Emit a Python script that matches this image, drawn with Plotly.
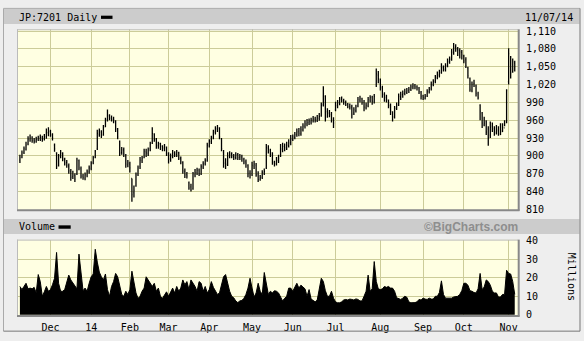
import pandas as pd
import plotly.graph_objects as go

# ---------------- data ----------------
JP_HOLIDAYS = ["2013-12-23", "2013-12-31", "2014-01-01", "2014-01-02", "2014-01-03",
               "2014-01-13", "2014-02-11", "2014-03-21", "2014-04-29", "2014-05-05",
               "2014-05-06", "2014-07-21", "2014-09-15", "2014-09-23", "2014-10-13",
               "2014-11-03"]
dates = [d.strftime("%Y-%m-%d") for d in
         pd.bdate_range("2013-11-11", "2014-11-07", freq="C", holidays=JP_HOLIDAYS)]

month_ticks = ["2013-12-02", "2014-01-06", "2014-02-03", "2014-03-03", "2014-04-01",
               "2014-05-01", "2014-06-02", "2014-07-01", "2014-08-01", "2014-09-01",
               "2014-10-01", "2014-11-04"]
month_labels = ["Dec", "14", "Feb", "Mar", "Apr", "May", "Jun", "Jul", "Aug", "Sep", "Oct", "Nov"]

price_ticks = [810, 840, 870, 900, 930, 960, 990, 1020, 1050, 1080, 1110]
volume_ticks = [0, 10, 20, 30, 40]

open_ = [
    893, 898, 906, 911, 920, 927, 930, 927, 925, 928, 929, 931, 929, 932, 939,
    941, 935, 918, 905, 884, 900, 904, 894, 889, 883, 874, 865, 867, 870, 892, 879, 866, 862, 868, 873,
    879, 889, 898, 912, 936, 940, 936, 950, 961, 967, 963, 961, 958, 945, 925, 906, 910, 900, 885,
    886, 862, 838, 850, 870, 882, 892, 898, 907, 904, 912, 922, 936, 928, 917, 921, 916, 913, 914,
    903, 894, 900, 905, 902, 905, 896, 889, 874, 869, 855, 848, 845, 868, 872, 876, 870, 881, 887, 893,
    917, 924, 931, 940, 945, 946, 928, 906, 888, 886, 900, 903, 899, 897, 902, 898, 898, 894, 890, 884, 871,
    870, 883, 884, 870, 861, 864, 871, 880, 913, 909, 902, 889, 887, 892, 900, 911, 916, 913, 917, 922,
    928, 931, 936, 941, 937, 944, 950, 954, 956, 957, 960, 962, 960, 963, 968, 986, 1000, 974, 972, 969, 960,
    978, 984, 989, 996, 992, 990, 987, 983, 982, 972, 976, 984, 994, 996, 990, 981, 984, 994, 999, 991, 1020, 1036,
    1028, 1014, 1004, 999, 993, 984, 974, 966, 980, 986, 999, 1003, 1005, 1007, 1010, 1012, 1016, 1018, 1016, 1014, 1007,
    1001, 997, 1001, 1008, 1013, 1020, 1026, 1031, 1036, 1041, 1049, 1045, 1052, 1059, 1063, 1074, 1083, 1080, 1077, 1074,
    1068, 1062, 1048, 1030, 1010, 1021, 1018, 1004, 985, 972, 952, 958, 945, 935, 950, 946, 938, 944, 936, 941, 947, 958,
    1025, 1065, 1042, 1056,
]
high = [
    902, 909, 916, 924, 933, 936, 933, 930, 932, 934, 936, 934, 937, 946, 948,
    944, 938, 921, 906, 903, 910, 906, 897, 893, 887, 878, 875, 871, 897, 894, 882, 870, 872, 877, 884,
    891, 900, 910, 944, 946, 943, 952, 964, 978, 970, 968, 966, 960, 947, 926, 915, 914, 903, 893,
    890, 862, 850, 872, 884, 898, 900, 912, 912, 914, 924, 948, 938, 930, 924, 922, 918, 920, 916,
    906, 904, 910, 908, 910, 907, 899, 891, 879, 873, 857, 853, 873, 878, 880, 879, 886, 891, 896, 922,
    928, 934, 944, 950, 952, 948, 930, 910, 896, 906, 908, 906, 903, 906, 905, 903, 902, 897, 894, 886, 876,
    890, 892, 888, 874, 868, 876, 879, 920, 918, 912, 906, 892, 898, 902, 920, 922, 921, 924, 928, 935,
    936, 940, 946, 947, 950, 955, 960, 962, 963, 964, 967, 966, 969, 972, 990, 1017, 1002, 980, 977, 974, 965,
    991, 994, 999, 1000, 996, 993, 989, 988, 986, 982, 986, 999, 1001, 998, 994, 990, 999, 1002, 1001, 1004, 1047, 1043,
    1030, 1018, 1007, 1003, 995, 988, 975, 984, 990, 1005, 1008, 1010, 1013, 1014, 1016, 1020, 1022, 1021, 1019, 1016, 1009,
    1003, 1004, 1012, 1016, 1025, 1029, 1036, 1042, 1045, 1056, 1052, 1056, 1064, 1067, 1080, 1090, 1088, 1083, 1081, 1078,
    1070, 1066, 1050, 1032, 1025, 1028, 1020, 1008, 987, 974, 966, 960, 950, 958, 956, 950, 952, 950, 955, 955, 960, 1012,
    1081, 1068, 1064, 1060,
]
low = [
    888, 896, 903, 909, 918, 924, 922, 921, 922, 925, 925, 924, 926, 929, 933,
    932, 926, 907, 878, 882, 896, 891, 884, 880, 870, 858, 861, 856, 868, 876, 862, 860, 859, 864, 870,
    876, 886, 896, 910, 932, 930, 934, 948, 958, 960, 958, 955, 940, 928, 900, 902, 898, 880, 881,
    872, 823, 830, 848, 866, 878, 888, 896, 898, 900, 908, 920, 924, 912, 912, 910, 908, 908, 900,
    887, 890, 896, 898, 898, 893, 886, 870, 863, 862, 843, 840, 843, 864, 868, 866, 868, 878, 884, 890,
    914, 920, 928, 936, 940, 928, 908, 880, 878, 883, 896, 896, 893, 894, 893, 893, 890, 886, 880, 864, 862,
    866, 878, 865, 856, 858, 861, 868, 878, 904, 898, 885, 882, 884, 888, 898, 906, 908, 910, 914, 918,
    925, 928, 932, 933, 934, 941, 946, 950, 952, 953, 956, 956, 957, 959, 966, 983, 958, 964, 965, 956, 947,
    975, 980, 985, 990, 986, 984, 980, 978, 963, 969, 973, 982, 990, 986, 975, 978, 982, 990, 986, 988, 1016, 1022,
    1010, 998, 991, 990, 980, 969, 958, 963, 977, 984, 994, 998, 1002, 1004, 1006, 1009, 1012, 1012, 1010, 1004, 995,
    994, 995, 999, 1005, 1010, 1017, 1022, 1029, 1032, 1038, 1042, 1042, 1049, 1055, 1060, 1070, 1075, 1068, 1064, 1062,
    1056, 1048, 1030, 1008, 1007, 1016, 1000, 995, 960, 947, 950, 935, 917, 930, 940, 934, 936, 934, 935, 940, 950, 955,
    1020, 1030, 1040, 1042,
]
close = [
    897, 905, 912, 918, 928, 930, 926, 925, 928, 930, 931, 928, 933, 939, 941,
    936, 930, 912, 882, 900, 905, 895, 888, 884, 875, 864, 868, 861, 893, 880, 866, 864, 868, 873, 880,
    888, 897, 908, 938, 940, 934, 948, 960, 968, 964, 962, 960, 946, 932, 905, 910, 903, 886, 888,
    880, 835, 842, 868, 880, 893, 896, 908, 905, 910, 920, 938, 928, 918, 920, 917, 914, 916, 904,
    895, 900, 905, 903, 906, 896, 890, 875, 868, 866, 846, 843, 870, 872, 876, 870, 882, 886, 892, 918,
    925, 930, 940, 946, 948, 932, 912, 888, 885, 900, 903, 900, 898, 902, 897, 899, 895, 890, 888, 870, 868,
    884, 886, 868, 860, 863, 872, 874, 914, 910, 905, 890, 886, 893, 896, 912, 916, 914, 918, 922, 928,
    932, 936, 940, 938, 944, 950, 954, 956, 958, 960, 962, 961, 964, 966, 985, 1005, 975, 972, 970, 962, 955,
    985, 990, 995, 993, 990, 986, 983, 982, 970, 978, 982, 995, 997, 990, 982, 985, 995, 998, 992, 1000, 1038, 1030,
    1015, 1003, 998, 995, 985, 975, 965, 980, 985, 1000, 1003, 1005, 1008, 1010, 1012, 1016, 1018, 1016, 1015, 1008, 1000,
    998, 1000, 1008, 1012, 1020, 1025, 1032, 1036, 1040, 1048, 1046, 1052, 1058, 1062, 1075, 1082, 1080, 1078, 1075, 1070,
    1060, 1052, 1035, 1012, 1020, 1022, 1005, 998, 975, 955, 955, 940, 930, 948, 945, 940, 942, 938, 942, 948, 955, 1010,
    1072, 1040, 1058, 1050,
]
volume_millions = [
    15.3, 13.6, 15.3, 17.0, 14.0, 14.4, 14.0, 14.8, 11.8, 21.7, 17.9, 10.0, 12.4, 15.3, 12.7,
    13.6, 16.2, 19.7, 33.6, 17.0, 12.7, 12.7, 13.6, 17.0, 21.4, 18.8, 17.0, 15.3, 14.0, 32.7, 23.0, 13.0, 14.4, 12.7, 17.0,
    20.5, 22.0, 35.3, 28.4, 23.0, 20.5, 18.8, 22.0, 13.6, 10.0, 15.3, 17.9, 22.3, 20.5, 15.3, 11.0, 10.0, 12.7, 11.0,
    13.6, 23.5, 17.9, 11.8, 8.9, 10.0, 12.7, 14.4, 20.5, 18.8, 17.0, 15.3, 17.0, 12.7, 14.4, 10.0, 8.9, 11.0, 12.4,
    10.0, 12.7, 14.4, 11.8, 15.3, 12.7, 14.4, 18.8, 16.2, 17.9, 13.6, 18.8, 17.0, 15.3, 12.7, 17.9, 17.0, 12.7, 15.3, 11.8,
    13.6, 17.9, 14.8, 12.7, 11.0, 11.8, 17.0, 20.5, 21.7, 17.0, 12.7, 10.0, 9.2, 7.5, 6.6, 7.5, 7.8, 8.9, 11.0, 14.4, 19.7,
    14.4, 9.6, 11.8, 17.0, 12.7, 11.0, 22.8, 17.0, 11.0, 12.7, 11.8, 13.0, 12.7, 11.8, 10.0, 7.5, 8.9, 10.0, 14.4, 14.4,
    12.7, 15.3, 17.0, 14.4, 16.0, 15.0, 14.0, 10.0, 13.6, 8.5, 7.5, 7.0, 8.0, 14.0, 19.7, 18.0, 13.0, 10.0, 10.0, 12.7, 9.0,
    7.0, 6.5, 6.5, 7.0, 8.0, 8.3, 8.0, 8.5, 8.3, 8.0, 8.6, 8.3, 7.5, 7.5, 10.0, 12.7, 21.4, 12.7, 14.0, 28.7, 18.0, 14.0,
    13.6, 14.0, 15.3, 14.8, 15.3, 14.4, 14.4, 12.7, 9.2, 8.8, 8.3, 9.0, 10.0, 9.5, 7.0, 6.5, 6.5, 6.6, 7.0, 8.3, 8.0,
    9.0, 8.5, 8.3, 9.0, 8.5, 8.5, 10.0, 10.0, 12.0, 18.3, 11.0, 9.0, 8.9, 8.9, 9.0, 9.6, 9.6, 10.0, 11.0, 13.0,
    17.0, 17.0, 16.0, 13.0, 12.7, 12.0, 11.8, 14.0, 22.3, 13.6, 15.0, 18.8, 17.9, 16.0, 12.7, 11.8, 11.8, 9.6, 9.6, 11.0, 11.0, 24.0,
    22.3, 22.0, 18.0, 11.0,
]

# ---------------- layout helpers (pixel -> paper) ----------------
W, H = 584, 341
def px(x):
    return x / W
def py(y):
    return 1 - y / H

MONO = "DejaVu Sans Mono"
BG = "#eeeeee"
PLOT_BG = "#ffffe2"
GRID = "#cccc99"

fig = go.Figure()
fig.add_trace(go.Ohlc(
    x=dates, open=open_, high=high, low=low, close=close,
    increasing=dict(line=dict(color="black", width=1.3)),
    decreasing=dict(line=dict(color="black", width=1.3)),
    tickwidth=0.35, hoverinfo="skip", showlegend=False,
    xaxis="x", yaxis="y",
))
fig.add_trace(go.Scatter(
    x=dates, y=volume_millions, mode="lines", fill="tozeroy",
    fillcolor="black", line=dict(color="black", width=1),
    hoverinfo="skip", showlegend=False, xaxis="x2", yaxis="y2",
))

xr = [-1.43, len(dates) - 1 + 1.6]
common_x = dict(type="category", categoryorder="array", categoryarray=dates,
                range=xr, tickvals=month_ticks, showgrid=True, gridcolor=GRID,
                gridwidth=1, ticks="", showline=False, zeroline=False, fixedrange=True)

fig.update_layout(
    width=W, height=H, margin=dict(l=0, r=0, t=0, b=0),
    paper_bgcolor=BG, plot_bgcolor=PLOT_BG, showlegend=False,
    font=dict(family=MONO, size=10, color="black"),
    xaxis=dict(domain=[px(17), px(518)], anchor="y", showticklabels=False,
               rangeslider=dict(visible=False), **common_x),
    xaxis2=dict(domain=[px(17), px(518)], anchor="y2", ticktext=month_labels,
                showticklabels=True, ticklabelstandoff=4,
                tickfont=dict(family=MONO, size=10, color="black"),
                **common_x),
    yaxis=dict(domain=[py(211), py(25)], anchor="x", side="right",
               range=[809.3, 1113], tickvals=price_ticks, tickformat=",d",
               showgrid=True, gridcolor=GRID, zeroline=False, ticks="",
               ticklabelstandoff=7, tickfont=dict(family=MONO, size=10, color="black")),
    yaxis2=dict(domain=[py(320), py(241.7)], anchor="x2", side="right",
                range=[-0.4, 40.5], tickvals=volume_ticks,
                showgrid=True, gridcolor=GRID, zeroline=False, ticks="",
                ticklabelstandoff=7, tickfont=dict(family=MONO, size=10, color="black")),
)

shapes = []
# header bars
shapes.append(dict(type="rect", xref="paper", yref="paper", x0=px(4), x1=px(579.5),
                   y0=py(19.5), y1=py(4), fillcolor="#cccccc", line=dict(width=0), layer="below"))
shapes.append(dict(type="rect", xref="paper", yref="paper", x0=px(4), x1=px(579.5),
                   y0=py(236), y1=py(220.5), fillcolor="#cccccc", line=dict(width=0), layer="below"))
# outer frame (light top/left, dark bottom/right)
for (x0, y0, x1, y1, c) in [(3.5, 3.5, 580, 3.5, "#aaaaaa"), (3.5, 3.5, 3.5, 336, "#aaaaaa"),
                            (3.5, 336, 580, 336, "#777777"), (580, 3.5, 580, 336, "#777777")]:
    shapes.append(dict(type="line", xref="paper", yref="paper", x0=px(x0), x1=px(x1),
                       y0=py(y0), y1=py(y1), line=dict(color=c, width=1), layer="above"))
# plot frames
for (top, bot) in [(25, 211), (241.7, 320)]:
    shapes.append(dict(type="line", xref="paper", yref="paper", x0=px(17), x1=px(518),
                       y0=py(top + 0.5), y1=py(top + 0.5), line=dict(color="#bbbbbb", width=1), layer="above"))
    shapes.append(dict(type="line", xref="paper", yref="paper", x0=px(17.5), x1=px(17.5),
                       y0=py(top), y1=py(bot), line=dict(color="#bbbbbb", width=1), layer="above"))
    shapes.append(dict(type="line", xref="paper", yref="paper", x0=px(17), x1=px(519.5),
                       y0=py(bot + 0.5), y1=py(bot + 0.5), line=dict(color="#888888", width=2), layer="above"))
    shapes.append(dict(type="line", xref="paper", yref="paper", x0=px(518.7), x1=px(518.7),
                       y0=py(top), y1=py(bot + 1), line=dict(color="#888888", width=2), layer="above"))
# legend swatches
shapes.append(dict(type="rect", xref="paper", yref="paper", x0=px(101), x1=px(112.5),
                   y0=py(14.3), y1=py(11), fillcolor="black", line=dict(width=0), layer="above"))
shapes.append(dict(type="rect", xref="paper", yref="paper", x0=px(58.5), x1=px(70.7),
                   y0=py(230.5), y1=py(227), fillcolor="black", line=dict(width=0), layer="above"))
fig.update_layout(shapes=shapes)

ann = [
    dict(text="JP:7201 Daily", x=px(17), y=py(12.5), xanchor="left", yanchor="middle",
         font=dict(family=MONO, size=10, color="black")),
    dict(text="11/07/14", x=px(575), y=py(12.7), xanchor="right", yanchor="middle",
         font=dict(family=MONO, size=10, color="black")),
    dict(text="Volume", x=px(17), y=py(228.7), xanchor="left", yanchor="middle",
         font=dict(family=MONO, size=10, color="black")),
    dict(text="<b>©BigCharts.com</b>", x=px(519.5), y=py(228.7), xanchor="right", yanchor="middle",
         font=dict(family="Liberation Sans", size=12, color="#8e8e8e")),
    dict(text="Millions", x=px(571), y=py(280), xanchor="center", yanchor="middle",
         textangle=90, font=dict(family=MONO, size=10, color="black")),
]
for a in ann:
    a.update(xref="paper", yref="paper", showarrow=False)
fig.update_layout(annotations=ann)

fig.write_html("out.html")
